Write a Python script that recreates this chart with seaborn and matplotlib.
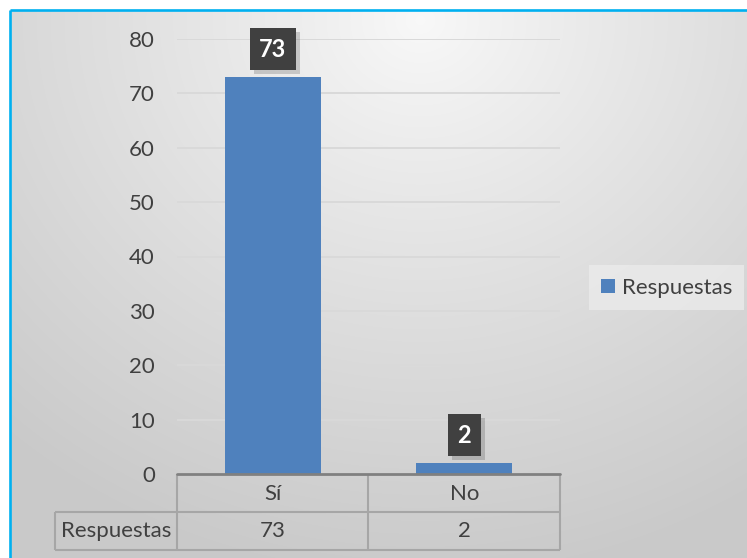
import numpy as np
import matplotlib
matplotlib.use('Agg')
import matplotlib.pyplot as plt
import matplotlib.transforms as mtransforms
from matplotlib.patches import Patch
from matplotlib.path import Path
import seaborn as sns
import pandas as pd

# ---- data ----
categories = ['Sí', 'No']
values = [73, 2]
series_name = 'Respuestas'
yticks = [0, 10, 20, 30, 40, 50, 60, 70, 80]

W, H, DPI = 747, 558, 100
BAR = '#4F81BD'
TXT = '#404040'
GRID = '#d9d9d9'
TAB = '#a6a6a6'
FS = 16

sns.set_theme(style='white')
plt.rcParams['font.family'] = ['Lato', 'DejaVu Sans']

fig = plt.figure(figsize=(W / DPI, H / DPI), dpi=DPI)
fig.patch.set_facecolor('white')

# ---- background (pixel coordinates) ----
bg = fig.add_axes([0, 0, 1, 1], zorder=0)
bg.set_xlim(0, W)
bg.set_ylim(H, 0)
bg.axis('off')
yy, xx = np.mgrid[10:H, 10:W]
r = np.sqrt(((xx - 420) / 620.0) ** 2 + ((yy - 20) / 560.0) ** 2)
r = np.clip(r, 0, 1) ** 0.9
c0 = np.array([0.975, 0.975, 0.975])
c1 = np.array([0.79, 0.79, 0.79])
img = c0 + (c1 - c0) * r[..., None]
bg.imshow(img, extent=(10, W, H, 10), aspect='auto', interpolation='bilinear', zorder=0)
bg.plot([10, 10], [H, 10], color='#00B0F0', lw=1.9, solid_capstyle='butt', zorder=1)
bg.plot([10, W], [10, 10], color='#00B0F0', lw=1.9, solid_capstyle='butt', zorder=1)

# ---- main axes ----
ax = fig.add_axes([177 / W, 1 - 474 / H, (560 - 177) / W, (474 - 39) / H], zorder=2)
ax.patch.set_alpha(0)
df = pd.DataFrame({'cat': categories, 'val': values})
sns.barplot(data=df, x='cat', y='val', color=BAR, saturation=1, width=0.5, ax=ax,
            linewidth=0, edgecolor='none', zorder=3)
ax.set_xlim(-0.5, len(categories) - 0.5)
ax.set_ylim(0, 80)
ax.set_yticks(yticks)
ax.set_xlabel('')
ax.set_ylabel('')
ax.set_xticks([])
for s in ax.spines.values():
    s.set_visible(False)
ax.yaxis.grid(True, color=GRID, lw=1.4)
ax.set_axisbelow(True)
ax.tick_params(axis='y', length=0, pad=16, labelsize=FS, labelcolor=TXT)
ax.axhline(0, color='#808080', lw=2.0, zorder=4, clip_on=False)


def label_box(x0, y0, width, height, mutation_size):
    """Rectangle with separate horizontal / vertical padding (pixels)."""
    px, half_h = 9.5, 21.0
    cy = y0 + height / 2.0
    xa, xb = x0 - px, x0 + width + px
    ya, yb = cy - half_h, cy + half_h
    return Path([(xa, ya), (xb, ya), (xb, yb), (xa, yb), (xa, ya)],
                [Path.MOVETO, Path.LINETO, Path.LINETO, Path.LINETO, Path.CLOSEPOLY])


# data labels
for i, v in enumerate(values):
    lab = str(v)
    ax.annotate(lab, (i, v), xytext=(4, 24), textcoords='offset pixels',
                ha='center', va='center', fontsize=17, fontweight='bold', color='white', alpha=0,
                bbox=dict(boxstyle=label_box, fc='#000000', ec='none', alpha=0.16), zorder=5)
    ax.annotate(lab, (i, v), xytext=(0, 28), textcoords='offset pixels',
                ha='center', va='center', fontsize=17, fontweight='bold', color='white',
                bbox=dict(boxstyle=label_box, fc='#404040', ec='none'), zorder=6)

# ---- data table ----
btr = mtransforms.blended_transform_factory(ax.transData, ax.transAxes)
def ay(py):
    return (474 - py) / (474 - 39)

for i, (c, v) in enumerate(zip(categories, values)):
    ax.text(i, ay(494), c, transform=btr, ha='center', va='center', fontsize=FS, color=TXT)
    ax.text(i, ay(531), str(v), transform=btr, ha='center', va='center', fontsize=FS, color=TXT)

lk = dict(color=TAB, lw=1.5, solid_capstyle='butt', zorder=1)
bg.plot([55, 560], [512, 512], **lk)
bg.plot([55, 560], [550, 550], **lk)
bg.plot([55, 55], [512, 550], **lk)
bg.plot([177, 177], [474, 550], **lk)
bg.plot([368, 368], [474, 550], **lk)
bg.plot([560, 560], [474, 550], **lk)
bg.text(116, 531, series_name, ha='center', va='center', fontsize=FS, color=TXT)

# ---- legend ----
leg = fig.legend(handles=[Patch(facecolor=BAR, edgecolor='none', label=series_name)],
                 loc='center left', bbox_to_anchor=(589 / W, 1 - 287.5 / H),
                 fontsize=FS, frameon=True, handlelength=0.6, handleheight=0.6,
                 handletextpad=0.33, borderpad=0.55, borderaxespad=0)
leg.get_frame().set_facecolor('#ebebeb')
leg.get_frame().set_edgecolor('none')
leg.get_frame().set_alpha(0.8)
leg.get_frame().set_boxstyle('square', pad=0)
for t in leg.get_texts():
    t.set_color(TXT)

fig.savefig('out.png', dpi=DPI)
